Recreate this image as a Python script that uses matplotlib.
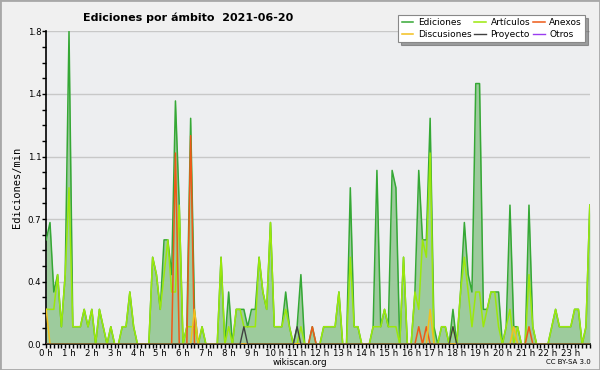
import numpy as np
import matplotlib
matplotlib.use("Agg")
import matplotlib.pyplot as plt
from matplotlib.patches import Rectangle
from matplotlib.ticker import MultipleLocator

# DATA (ediciones por minuto, un punto cada 10 minutos)
hour_labels = [f"{h} h" for h in range(24)]

ediciones = [
    0.6, 0.7, 0.3, 0.4, 0.1, 0.4, 1.8, 0.1, 0.1, 0.1, 0.2, 0.1,   # 0h-1h50
    0.2, 0.0, 0.2, 0.1, 0.0, 0.1, 0.0, 0.0, 0.1, 0.1, 0.3, 0.1,   # 2h-3h50
    0.0, 0.0, 0.0, 0.0, 0.5, 0.4, 0.2, 0.6, 0.6, 0.4, 1.4, 0.8,   # 4h-5h50
    0.0, 0.1, 1.3, 0.2, 0.0, 0.1, 0.0, 0.0, 0.0, 0.0, 0.5, 0.0,   # 6h-7h50
    0.3, 0.0, 0.2, 0.2, 0.2, 0.1, 0.2, 0.2, 0.5, 0.3, 0.2, 0.7,   # 8h-9h50
    0.1, 0.1, 0.1, 0.3, 0.1, 0.0, 0.1, 0.4, 0.0, 0.0, 0.1, 0.0,   # 10h-11h50
    0.0, 0.1, 0.1, 0.1, 0.1, 0.3, 0.0, 0.0, 0.9, 0.1, 0.1, 0.0,   # 12h-13h50
    0.0, 0.0, 0.1, 1.0, 0.1, 0.2, 0.1, 1.0, 0.9, 0.0, 0.5, 0.0,   # 14h-15h50
    0.0, 0.3, 1.0, 0.6, 0.6, 1.3, 0.1, 0.0, 0.1, 0.1, 0.0, 0.2,   # 16h-17h50
    0.0, 0.3, 0.7, 0.4, 0.3, 1.5, 1.5, 0.2, 0.2, 0.3, 0.3, 0.3,   # 18h-19h50
    0.0, 0.1, 0.8, 0.1, 0.1, 0.0, 0.0, 0.8, 0.1, 0.0, 0.0, 0.0,   # 20h-21h50
    0.0, 0.1, 0.2, 0.1, 0.1, 0.1, 0.1, 0.2, 0.2, 0.0, 0.1, 0.8,   # 22h-23h50
]

articulos = [
    0.2, 0.2, 0.2, 0.4, 0.1, 0.4, 0.9, 0.1, 0.1, 0.1, 0.2, 0.1,
    0.2, 0.0, 0.2, 0.1, 0.0, 0.1, 0.0, 0.0, 0.1, 0.1, 0.3, 0.1,
    0.0, 0.0, 0.0, 0.0, 0.5, 0.4, 0.2, 0.4, 0.6, 0.3, 0.3, 0.8,
    0.0, 0.1, 0.1, 0.1, 0.0, 0.1, 0.0, 0.0, 0.0, 0.0, 0.5, 0.0,
    0.1, 0.0, 0.2, 0.2, 0.1, 0.1, 0.1, 0.1, 0.5, 0.3, 0.2, 0.7,
    0.1, 0.1, 0.1, 0.2, 0.1, 0.0, 0.0, 0.1, 0.0, 0.0, 0.0, 0.0,
    0.0, 0.1, 0.1, 0.1, 0.1, 0.3, 0.0, 0.0, 0.5, 0.1, 0.1, 0.0,
    0.0, 0.0, 0.1, 0.1, 0.1, 0.2, 0.1, 0.1, 0.1, 0.0, 0.5, 0.0,
    0.0, 0.3, 0.2, 0.6, 0.5, 1.1, 0.0, 0.0, 0.1, 0.1, 0.0, 0.1,
    0.0, 0.3, 0.5, 0.3, 0.1, 0.3, 0.3, 0.1, 0.2, 0.3, 0.3, 0.1,
    0.0, 0.1, 0.2, 0.0, 0.1, 0.0, 0.0, 0.4, 0.1, 0.0, 0.0, 0.0,
    0.0, 0.1, 0.2, 0.1, 0.1, 0.1, 0.1, 0.2, 0.2, 0.0, 0.1, 0.8,
]

anexos = [0.0] * 144
for i, v in [(34, 1.1), (38, 1.2), (70, 0.1), (98, 0.1), (100, 0.1), (127, 0.1)]:
    anexos[i] = v

discusiones = [0.0] * 144
for i, v in [(0, 0.2), (39, 0.2), (101, 0.2), (123, 0.1)]:
    discusiones[i] = v

proyecto = [0.0] * 144
for i, v in [(52, 0.1), (66, 0.1), (107, 0.1)]:
    proyecto[i] = v

otros = [0.0] * 144

x = np.arange(len(ediciones)) / 6.0

# FIGURE
fig = plt.figure(figsize=(6, 3.7), dpi=100, facecolor="#f0f0f0")
fig.patches.append(Rectangle((0, 0), 1, 1, transform=fig.transFigure,
                             fill=False, edgecolor="#a8a8a8", linewidth=2))
ax = fig.add_axes([0.077, 0.070, 0.906, 0.845], facecolor="#edeef0")

ax.fill_between(x, ediciones, color="#9dcb9d", linewidth=0, zorder=2)
l_ed, = ax.plot(x, ediciones, color="#35a835", linewidth=1.1, zorder=3, label="Ediciones")
l_ar, = ax.plot(x, articulos, color="#9be80c", linewidth=1.1, zorder=4, label="Artículos")
l_an, = ax.plot(x, anexos, color="#ee5a18", linewidth=1.1, zorder=5, label="Anexos")
l_di, = ax.plot(x, discusiones, color="#f2c01e", linewidth=1.1, zorder=5, label="Discusiones")
l_pr, = ax.plot(x, proyecto, color="#404040", linewidth=1.0, zorder=5, label="Proyecto")
l_ot, = ax.plot(x, otros, color="#9a3cf0", linewidth=1.0, zorder=1, label="Otros")

ax.set_xlim(0, x[-1])
ax.set_ylim(0, 1.8)

# axes, ticks, grid
for side in ["top", "right"]:
    ax.spines[side].set_visible(False)
ax.spines["left"].set_linewidth(1.2)
ax.spines["bottom"].set_linewidth(1.2)
ax.set_yticks([0, 0.36, 0.72, 1.08, 1.44, 1.8])
ax.set_yticklabels(["0.0", "0.4", "0.7", "1.1", "1.4", "1.8"])
ax.yaxis.set_minor_locator(MultipleLocator(0.09))
ax.set_xticks(range(24))
ax.set_xticklabels(hour_labels)
ax.xaxis.set_minor_locator(MultipleLocator(1 / 6))
ax.tick_params(axis="both", which="major", labelsize=6.2, length=3, width=1, pad=0.5)
ax.tick_params(axis="both", which="minor", length=3, width=1)
ax.grid(axis="y", which="major", color="#c8c8c8", linewidth=1)
ax.set_axisbelow(True)
ax.set_ylabel("Ediciones/min", fontsize=7.5, family="DejaVu Sans Mono", labelpad=4)

# texts
fig.text(0.313, 0.953, "Ediciones por ámbito  2021-06-20", ha="center", va="center",
         fontsize=8, fontweight="bold")
fig.text(0.5, 0.021, "wikiscan.org", ha="center", va="center", fontsize=6.3)
fig.text(0.985, 0.021, "CC BY-SA 3.0", ha="right", va="center", fontsize=5)

# legend filled column by column: 2 rows x 3 columns
handles = [l_ed, l_di, l_ar, l_pr, l_an, l_ot]
leg = fig.legend(handles, [h.get_label() for h in handles],
                 loc="upper right", bbox_to_anchor=(0.983, 0.972), ncol=3,
                 fontsize=6.5, frameon=True, fancybox=False, shadow=True,
                 handlelength=1.3, handletextpad=0.5, columnspacing=0.3,
                 labelspacing=0.25, borderpad=0.4)
leg.get_frame().set_edgecolor("#888888")
leg.get_frame().set_linewidth(0.8)

fig.savefig("out.png", dpi=100, facecolor=fig.get_facecolor())
